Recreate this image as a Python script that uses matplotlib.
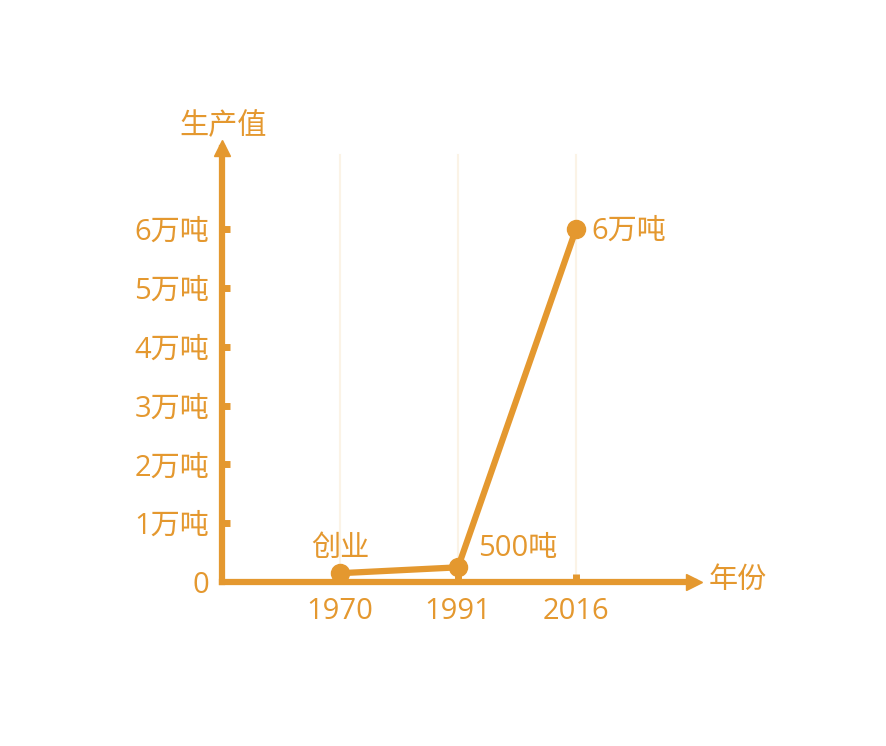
import matplotlib.pyplot as plt

plt.rcParams['font.family'] = ['Open Sans', 'Noto Sans CJK SC', 'DejaVu Sans']

years = ["1970", "1991", "2016"]
output = [0.15, 0.25, 6.0]
point_labels = ["创业", "500吨", "6万吨"]
ytick_vals = [0, 1, 2, 3, 4, 5, 6]
ytick_labels = ["0", "1万吨", "2万吨", "3万吨", "4万吨", "5万吨", "6万吨"]

orange = "#E4982F"
grid_col = "#FBF3E6"
fs = 21

fig = plt.figure(figsize=(8.86, 7.46), dpi=100)
ax = fig.add_axes([0.2506, 0.2198, 0.5327, 0.5818])

xs = list(range(1, len(years) + 1))
ax.set_xlim(0, 4)
ax.set_ylim(0, 7.38)

# faint vertical guides
for x in xs:
    ax.plot([x, x], [0, 7.26], color=grid_col, lw=1.5, zorder=1)

for side in ["top", "right"]:
    ax.spines[side].set_visible(False)
for side in ["left", "bottom"]:
    ax.spines[side].set_color(orange)
    ax.spines[side].set_linewidth(4.5)

# arrow heads
ax.plot(4, 0, marker=">", ms=11, color=orange, clip_on=False, zorder=5)
ax.plot(0, 7.38, marker="^", ms=11, color=orange, clip_on=False, zorder=5)

ax.plot(xs, output, color=orange, lw=4.5, marker="o", ms=13, zorder=4,
        clip_on=False)

ax.set_xticks(xs)
ax.set_xticklabels(years)
ax.set_yticks(ytick_vals)
ax.set_yticklabels(ytick_labels)
ax.tick_params(axis="both", direction="in", colors=orange, labelcolor=orange,
               labelsize=fs, length=6, width=5)
ax.tick_params(axis="x", pad=11)
ax.tick_params(axis="y", pad=9)
ax.yaxis.get_major_ticks()[0].tick1line.set_visible(False)

# point annotations
ax.text(xs[0], output[0] + 0.17, point_labels[0], color=orange, fontsize=fs,
        ha="center", va="bottom")
ax.text(xs[1] + 0.17, output[1] + 0.08, point_labels[1], color=orange,
        fontsize=fs, ha="left", va="bottom")
ax.text(xs[2] + 0.13, output[2] - 0.03, point_labels[2], color=orange,
        fontsize=fs, ha="left", va="center")

ax.text(-0.36, 7.75, "生产值", color=orange, fontsize=fs, ha="left",
        va="center", clip_on=False)
ax.text(4.12, 0.03, "年份", color=orange, fontsize=fs, ha="left",
        va="center", clip_on=False)

fig.savefig("out.png", dpi=100)
